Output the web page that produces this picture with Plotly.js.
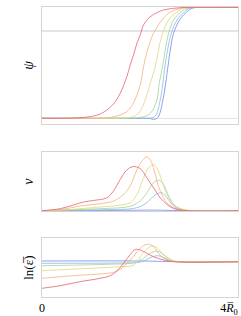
<!DOCTYPE html>
<html><head><meta charset="utf-8">
<script src="https://cdn.plot.ly/plotly-3.0.1.min.js"></script>
<style>html,body{margin:0;padding:0;background:#fff}#c{width:241px;height:316px}</style>
</head><body><div id="c"></div>
<script>
// Series names (order: drawn back to front)
const names = ["blue", "lightblue", "green", "yellow", "orange", "red"];
const colors = ["#7388ee", "#86bde0", "#a5d196", "#ded587", "#f6b07a", "#e85f69"];

// Panel 1: psi
const psiX_red = [0, 0.777, 1.049, 1.186, 1.323, 1.458, 1.595, 1.732, 1.800, 1.867, 1.937, 2.004, 2.072, 2.209, 2.346, 2.481, 2.822, 3.164, 4.0];
const psiY_red = [0, 0.007, 0.026, 0.049, 0.095, 0.164, 0.286, 0.477, 0.611, 0.725, 0.859, 0.954, 1.069, 1.164, 1.210, 1.241, 1.267, 1.271, 1.271];
const psiX_orange = [0, 1.186, 1.39, 1.595, 1.732, 1.800, 1.867, 2.004, 2.072, 2.153, 2.276, 2.448, 2.583, 2.822, 3.231, 4.0];
const psiY_orange = [0, 0.001, 0.009, 0.038, 0.076, 0.118, 0.175, 0.381, 0.591, 0.782, 0.974, 1.126, 1.203, 1.260, 1.271, 1.271];
const psiX_yellow = [0, 1.595, 1.80, 1.969, 2.106, 2.209, 2.311, 2.378, 2.460, 2.583, 2.720, 2.890, 3.333, 4.0];
const psiY_yellow = [0, 0.001, 0.009, 0.057, 0.21, 0.401, 0.591, 0.782, 0.974, 1.126, 1.203, 1.260, 1.271, 1.271];
const psiX_green = [0, 1.8, 2.004, 2.209, 2.346, 2.393, 2.460, 2.515, 2.583, 2.685, 2.808, 2.959, 3.436, 4.0];
const psiY_green = [0, 0.002, 0.009, 0.057, 0.21, 0.404, 0.591, 0.782, 0.974, 1.126, 1.203, 1.260, 1.271, 1.271];
const psiX_lightblue = [0, 2.0, 2.209, 2.311, 2.413, 2.509, 2.563, 2.638, 2.755, 2.877, 3.012, 3.476, 4.0];
const psiY_lightblue = [0, 0.001, 0.003, 0.026, 0.21, 0.591, 0.782, 0.974, 1.126, 1.203, 1.260, 1.271, 1.271];
const psiX_blue = [0, 2.0, 2.209, 2.25, 2.311, 2.372, 2.468, 2.57, 2.618, 2.685, 2.808, 2.924, 3.061, 3.538, 4.0];
const psiY_blue = [0, 0, -0.002, -0.011, -0.008, 0.015, 0.21, 0.591, 0.782, 0.974, 1.126, 1.203, 1.260, 1.271, 1.271];

// Panel 2: nu
const nuX_red = [0, 0.368, 0.640, 0.845, 1.049, 1.323, 1.458, 1.595, 1.732, 1.861, 2.004, 2.141, 2.276, 2.413, 2.550, 2.685, 2.890, 4.0];
const nuY_red = [0, 0.034, 0.097, 0.148, 0.175, 0.221, 0.336, 0.533, 0.698, 0.755, 0.721, 0.562, 0.392, 0.221, 0.107, 0.039, 0.005, 0];
const nuX_orange = [0, 0.368, 0.777, 1.186, 1.458, 1.663, 1.800, 1.937, 2.039, 2.127, 2.194, 2.276, 2.346, 2.413, 2.550, 2.685, 2.890, 3.23, 4.0];
const nuY_orange = [0, 0.017, 0.080, 0.119, 0.165, 0.278, 0.426, 0.698, 0.847, 0.920, 0.891, 0.733, 0.506, 0.336, 0.136, 0.051, 0.012, 0, 0];
const nuX_yellow = [0, 0.368, 1.186, 1.595, 1.800, 1.937, 2.072, 2.174, 2.264, 2.346, 2.448, 2.550, 2.685, 2.890, 3.13, 4.0];
const nuY_yellow = [0, 0.009, 0.063, 0.097, 0.136, 0.278, 0.562, 0.733, 0.789, 0.733, 0.506, 0.278, 0.107, 0.022, 0, 0];
const nuX_green = [0, 1.186, 1.732, 1.86, 2.004, 2.141, 2.276, 2.378, 2.481, 2.583, 2.720, 2.924, 3.13, 4.0];
const nuY_green = [0, 0.034, 0.063, 0.094, 0.165, 0.307, 0.477, 0.523, 0.448, 0.250, 0.080, 0.005, 0, 0];
const nuX_lightblue = [0, 1.323, 1.867, 2.072, 2.209, 2.346, 2.448, 2.550, 2.685, 2.857, 3.13, 4.0];
const nuY_lightblue = [0, 0.017, 0.039, 0.097, 0.193, 0.290, 0.307, 0.221, 0.080, 0.005, 0, 0];
const nuX_blue = [0, 1.5, 2.3, 2.6, 3.0, 4.0];
const nuY_blue = [0, 0.005, 0.01, 0.005, 0, 0];

// Panel 3: ln(eps)
const eX_red = [0, 0.368, 0.777, 1.186, 1.391, 1.528, 1.663, 1.800, 1.902, 2.004, 2.141, 2.276, 2.481, 2.685, 4.0];
const eY_red = [-2.68, -2.42, -2.02, -1.68, -1.42, -0.95, -0.18, 0.70, 1.20, 1.15, 0.82, 0.48, 0.15, -0.02, -0.02];
const eX_orange = [0, 0.640, 1.323, 1.458, 1.630, 1.732, 1.867, 1.937, 2.072, 2.174, 2.276, 2.378, 2.481, 2.618, 2.82, 4.0];
const eY_orange = [-1.68, -1.42, -1.18, -1.08, -0.68, -0.18, 0.48, 0.98, 1.58, 1.72, 1.48, 0.82, 0.32, 0.05, -0.01, -0.02];
const eX_yellow = [0, 0.982, 1.595, 1.80, 1.867, 1.963, 2.004, 2.141, 2.243, 2.346, 2.448, 2.550, 2.685, 2.92, 4.0];
const eY_yellow = [-0.92, -0.68, -0.52, -0.47, -0.35, 0.05, 0.48, 1.25, 1.55, 1.38, 0.82, 0.32, 0.05, -0.01, -0.02];
const eX_green = [0, 1.323, 1.867, 2.072, 2.209, 2.346, 2.448, 2.583, 2.720, 2.92, 4.0];
const eY_green = [-0.42, -0.28, -0.13, 0.32, 0.82, 1.05, 0.82, 0.32, 0.02, -0.01, -0.02];
const eX_lightblue = [0, 1.595, 1.96, 2.072, 2.209, 2.346, 2.448, 2.583, 2.720, 4.0];
const eY_lightblue = [-0.18, -0.15, -0.10, 0.05, 0.38, 0.58, 0.48, 0.15, -0.02, -0.02];
const eX_blue = [0, 2.0, 2.6, 4.0];
const eY_blue = [0.05, 0.05, 0.0, -0.02];

const xTickVals = [0, 4];
const xTickText = ["0", "4<i>R̅</i><sub>0</sub>&nbsp;&nbsp;&nbsp;&nbsp;&nbsp;&nbsp;"];

const psi = [[psiX_blue, psiY_blue], [psiX_lightblue, psiY_lightblue], [psiX_green, psiY_green], [psiX_yellow, psiY_yellow], [psiX_orange, psiY_orange], [psiX_red, psiY_red]];
const nu = [[nuX_blue, nuY_blue], [nuX_lightblue, nuY_lightblue], [nuX_green, nuY_green], [nuX_yellow, nuY_yellow], [nuX_orange, nuY_orange], [nuX_red, nuY_red]];
const eps = [[eX_blue, eY_blue], [eX_lightblue, eY_lightblue], [eX_green, eY_green], [eX_yellow, eY_yellow], [eX_orange, eY_orange], [eX_red, eY_red]];

const traces = [];
function add(set, xa, ya) {
  set.forEach((s, i) => traces.push({
    x: s[0], y: s[1], xaxis: xa, yaxis: ya, type: 'scatter', mode: 'lines',
    name: names[i], showlegend: false, hoverinfo: 'skip',
    line: {color: colors[i], width: 0.8, shape: 'spline', smoothing: 1}
  }));
}
add(psi, 'x', 'y');
add(nu, 'x2', 'y2');
add(eps, 'x3', 'y3');

const frame = {showline: true, linecolor: '#d4d4d4', linewidth: 1, mirror: true, zeroline: false, ticks: ''};
const serif = {family: 'Liberation Serif, DejaVu Serif, serif', color: '#000'};
const xbase = Object.assign({}, frame, {range: [0, 4], showgrid: false, fixedrange: true});

const layout = {
  width: 241, height: 316,
  margin: {l: 42, r: 3, t: 7, b: 19},
  paper_bgcolor: '#fff', plot_bgcolor: '#fff',
  showlegend: false,
  xaxis: Object.assign({}, xbase, {anchor: 'y', showticklabels: false}),
  xaxis2: Object.assign({}, xbase, {anchor: 'y2', showticklabels: false}),
  xaxis3: Object.assign({}, xbase, {anchor: 'y3', showticklabels: true, tickvals: xTickVals, ticktext: xTickText, ticklabeloverflow: 'allow', tickfont: Object.assign({size: 12}, serif)}),
  yaxis: Object.assign({}, frame, {domain: [0.5966, 1], range: [-0.065, 1.275], showticklabels: false, tickvals: [0, 1], showgrid: true, gridcolor: '#e4e4e4', gridwidth: 1.5,
    title: {text: '<i>ψ</i>', font: Object.assign({size: 14}, serif), standoff: 4}}),
  yaxis2: Object.assign({}, frame, {domain: [0.2966, 0.499], range: [-0.005, 1], showticklabels: false, showgrid: false,
    title: {text: '<i>ν</i>', font: Object.assign({size: 14}, serif), standoff: 4}}),
  yaxis3: Object.assign({}, frame, {domain: [0, 0.2024], range: [-3.55, 2.32], showticklabels: false, showgrid: false,
    title: {text: 'ln(ε̅)', font: Object.assign({size: 13}, serif), standoff: 4}})
};

Plotly.newPlot('c', traces, layout, {staticPlot: true, displayModeBar: false});
</script></body></html>
